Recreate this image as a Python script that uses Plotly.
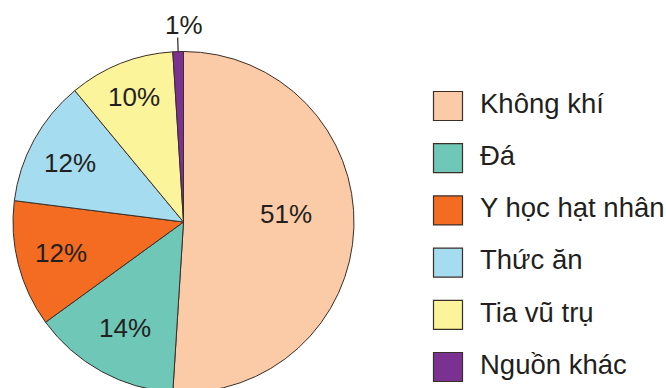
import math
import plotly.graph_objects as go

# Sources of background radiation and their shares (%)
sources = ["Không khí", "Đá", "Y học hạt nhân", "Thức ăn", "Tia vũ trụ", "Nguồn khác"]
shares = [51, 14, 12, 12, 10, 1]
colors = ["#FBCBA7", "#6FC7B7", "#F36C22", "#A6DCF0", "#FBF49B", "#7B3191"]

# how far out (as a fraction of the radius) each inside label sits,
# and a small vertical nudge in pixels
label_depth = [0.6, 0.71, 0.74, 0.76, 0.79, None]
label_lift = [11, 0, 0, -3, 0, 0]

W, H = 666, 400
cx, cy, R = 183.5, 222.0, 170.5
ink = "#231F20"
edge = "#3A2E28"
font_family = "Liberation Sans, Arial, Helvetica, sans-serif"

fig = go.Figure()

fig.add_trace(go.Pie(
    labels=sources,
    values=shares,
    sort=False,
    direction="clockwise",
    rotation=0,
    marker=dict(colors=colors, line=dict(color=edge, width=1)),
    textinfo="none",
    hoverinfo="label+percent",
    showlegend=False,
    domain=dict(x=[(cx - R) / W, (cx + R) / W],
                y=[1 - (cy + R) / H, 1 - (cy - R) / H]),
))

# percentage labels placed along each slice's mid-angle
total = sum(shares)
cum = 0.0
annotations = []
shapes = []
for v, depth, lift in zip(shares, label_depth, label_lift):
    theta = math.radians((cum + v / 2) / total * 360)
    cum += v
    if depth is not None:
        annotations.append(dict(
            x=cx + depth * R * math.sin(theta),
            y=cy - depth * R * math.cos(theta),
            xref="x", yref="y", text=f"{v}%", showarrow=False,
            yshift=lift,
            font=dict(size=26, color=ink, family=font_family),
        ))
    else:
        x0 = cx + R * math.sin(theta)
        y0 = cy - R * math.cos(theta)
        x1 = cx + (R + 14) * math.sin(theta)
        y1 = cy - (R + 14) * math.cos(theta)
        shapes.append(dict(type="line", xref="x", yref="y",
                           x0=x0, y0=y0, x1=x1, y1=y1,
                           line=dict(color=ink, width=1.2)))
        annotations.append(dict(
            x=x1 + 6, y=y1 - 13, xref="x", yref="y", text=f"{v}%",
            showarrow=False, yanchor="middle",
            font=dict(size=26, color=ink, family=font_family),
        ))

# legend: square swatches with labels
legend_top, legend_step = 106, 52.2
rows = [legend_top + i * legend_step for i in range(len(sources))]
fig.add_trace(go.Scatter(
    x=[448] * len(sources), y=rows, mode="markers",
    marker=dict(symbol="square", size=29, color=colors,
                line=dict(color=edge, width=1.2)),
    hoverinfo="skip", showlegend=False,
))
fig.add_trace(go.Scatter(
    x=[480] * len(sources), y=rows, mode="text", text=sources,
    textposition="middle right",
    textfont=dict(size=27.5, color=ink, family=font_family),
    hoverinfo="skip", showlegend=False,
))

fig.update_layout(
    width=W, height=H,
    margin=dict(l=0, r=0, t=0, b=0),
    paper_bgcolor="white", plot_bgcolor="rgba(0,0,0,0)",
    xaxis=dict(range=[0, W], visible=False, fixedrange=True),
    yaxis=dict(range=[H, 0], visible=False, fixedrange=True),
    annotations=annotations,
    shapes=shapes,
    font=dict(family=font_family, color=ink),
)

fig.write_html(
    "out.html",
    post_script="document.documentElement.style.overflow='hidden';"
                "document.body.style.overflow='hidden';"
                "document.body.style.margin='0';",
)
